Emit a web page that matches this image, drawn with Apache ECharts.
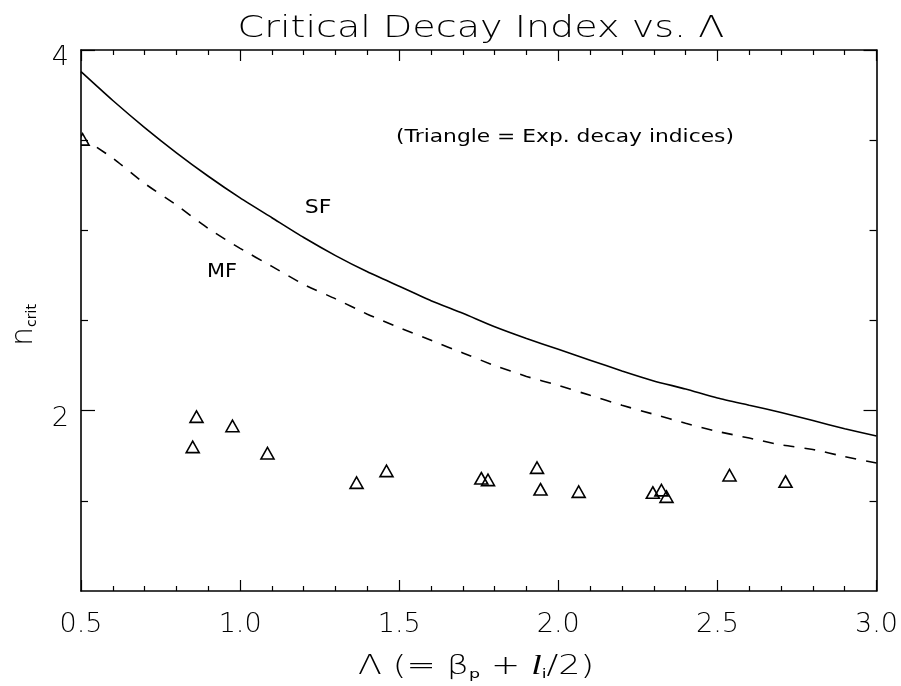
<!DOCTYPE html>
<html>
<head>
<meta charset="utf-8">
<script src="https://cdn.jsdelivr.net/npm/echarts@6/dist/echarts.min.js"></script>
<style>
  html, body { margin: 0; padding: 0; background: #fff; }
  #chart { width: 901px; height: 686px; }
</style>
</head>
<body>
<div id="chart"></div>
<script>
// Critical decay index, single-flux-rope (SF) model, solid curve
const lambdaSF = [0.5, 0.6, 0.7, 0.8, 0.9, 1.0, 1.1, 1.2, 1.3, 1.4, 1.5, 1.6, 1.7, 1.8, 1.9,
                  2.0, 2.1, 2.2, 2.3, 2.4, 2.5, 2.6, 2.7, 2.8, 2.9, 3.0];
const nCritSF = [3.88, 3.72, 3.57, 3.43, 3.30, 3.18, 3.07, 2.96, 2.86, 2.77, 2.69, 2.61, 2.54, 2.465, 2.40,
                 2.34, 2.28, 2.22, 2.165, 2.12, 2.07, 2.03, 1.99, 1.945, 1.90, 1.86];

// Critical decay index, multi-flux (MF) model, dashed curve
const lambdaMF = [0.55, 0.6, 0.7, 0.8, 0.9, 1.0, 1.1, 1.2, 1.3, 1.4, 1.5, 1.6, 1.7, 1.8, 1.9,
                  2.0, 2.1, 2.2, 2.3, 2.4, 2.5, 2.6, 2.7, 2.8, 2.9, 3.0];
const nCritMF = [3.46, 3.40, 3.26, 3.14, 3.01, 2.90, 2.80, 2.70, 2.62, 2.535, 2.46, 2.39, 2.32, 2.25, 2.19,
                 2.14, 2.085, 2.03, 1.98, 1.93, 1.885, 1.848, 1.81, 1.785, 1.745, 1.71];

// Experimental decay indices (triangles)
const expLambda = [0.505, 0.863, 0.851, 0.976, 1.086, 1.366, 1.460, 1.758, 1.779, 1.933, 1.944,
                   2.064, 2.297, 2.324, 2.340, 2.538, 2.714];
const expIndex  = [3.50, 1.963, 1.795, 1.911, 1.760, 1.597, 1.662, 1.621, 1.612, 1.680, 1.560,
                   1.547, 1.542, 1.555, 1.519, 1.638, 1.603];

// Y tick placement
const yLabelValues = [2, 4];
const yMinorValues = [1.5, 2.5, 3, 3.5];

const FONT = "'DejaVu Sans', sans-serif";
const FW = 200;
const INK = '#000';

const chart = echarts.init(document.getElementById('chart'), null, { renderer: 'canvas' });

const xBase = {
  type: 'value', min: 0.5, max: 3.0, interval: 0.5,
  splitLine: { show: false },
  axisLine: { show: true, onZero: false, lineStyle: { color: INK, width: 1.6 } },
  axisTick: { show: true, inside: true, length: 11, lineStyle: { color: INK, width: 1.2 } },
  minorTick: { show: true, splitNumber: 5, length: 5, lineStyle: { color: INK, width: 1.2 } },
  minorSplitLine: { show: false }
};

const yBase = {
  type: 'value', min: 1, max: 4,
  splitLine: { show: false },
  axisLine: { show: false, onZero: false, lineStyle: { color: INK, width: 1.6 } },
  axisLabel: { show: false }
};

const option = {
  backgroundColor: '#fff',
  animation: false,
  grid: { left: 81, right: 24, top: 50, bottom: 95, containLabel: false },
  xAxis: [
    Object.assign({}, xBase, {
      position: 'bottom',
      axisLabel: {
        show: true, margin: 20, color: INK, fontFamily: FONT, fontWeight: FW, fontSize: 27,
        formatter: v => v.toFixed(1)
      }
    }),
    Object.assign({}, xBase, { position: 'top', axisLabel: { show: false } })
  ],
  yAxis: [
    Object.assign({}, yBase, {
      position: 'left',
      axisLine: { show: true, onZero: false, lineStyle: { color: INK, width: 1.6 } },
      axisTick: { show: true, inside: true, length: 14, customValues: yLabelValues, lineStyle: { color: INK, width: 1.2 } },
      axisLabel: {
        show: true, customValues: yLabelValues, margin: 12,
        color: INK, fontFamily: FONT, fontWeight: FW, fontSize: 27,
        verticalAlign: 'top', lineHeight: 16,
        formatter: v => String(v)
      }
    }),
    Object.assign({}, yBase, {
      position: 'left',
      axisTick: { show: true, inside: true, length: 7, customValues: yMinorValues, lineStyle: { color: INK, width: 1.2 } }
    }),
    Object.assign({}, yBase, {
      position: 'right',
      axisLine: { show: true, onZero: false, lineStyle: { color: INK, width: 1.6 } },
      axisTick: { show: true, inside: true, length: 13, customValues: yLabelValues, lineStyle: { color: INK, width: 1.2 } }
    }),
    Object.assign({}, yBase, {
      position: 'right',
      axisTick: { show: true, inside: true, length: 7, customValues: yMinorValues, lineStyle: { color: INK, width: 1.2 } }
    })
  ],
  series: [
    {
      name: 'SF', type: 'line', xAxisIndex: 0, yAxisIndex: 0,
      data: lambdaSF.map((x, i) => [x, nCritSF[i]]),
      showSymbol: false, smooth: 0.2,
      lineStyle: { color: INK, width: 1.6, type: 'solid' }
    },
    {
      name: 'MF', type: 'line', xAxisIndex: 0, yAxisIndex: 0,
      data: lambdaMF.map((x, i) => [x, nCritMF[i]]),
      showSymbol: false, smooth: 0.2,
      lineStyle: { color: INK, width: 1.6, type: [11, 10] }
    },
    {
      name: 'Exp. decay indices', type: 'custom', xAxisIndex: 0, yAxisIndex: 0,
      clip: true,
      data: expLambda.map((x, i) => [x, expIndex[i]]),
      renderItem: (params, api) => {
        const p = api.coord([api.value(0), api.value(1)]);
        return {
          type: 'polygon',
          shape: { points: [[p[0], p[1] - 6.5], [p[0] + 6.5, p[1] + 5], [p[0] - 6.5, p[1] + 5]] },
          style: { fill: 'none', stroke: INK, lineWidth: 1.6 }
        };
      }
    }
  ],
  graphic: [
    {
      type: 'text', x: 481, y: 29, scaleX: 1.27,
      style: { text: 'Critical Decay Index vs. Λ', fill: INK, font: `${FW} 30px ${FONT}`, align: 'center', verticalAlign: 'middle' }
    },
    {
      type: 'text', x: 565, y: 137, scaleX: 1.21,
      style: { text: '(Triangle = Exp. decay indices)', fill: INK, font: `normal 18px ${FONT}`, align: 'center', verticalAlign: 'middle' }
    },
    {
      type: 'text', x: 318, y: 208, scaleX: 1.1,
      style: { text: 'SF', fill: INK, font: `normal 20px ${FONT}`, align: 'center', verticalAlign: 'middle' }
    },
    {
      type: 'text', x: 222, y: 272, scaleX: 1.1,
      style: { text: 'MF', fill: INK, font: `normal 19px ${FONT}`, align: 'center', verticalAlign: 'middle' }
    },
    {
      type: 'text', x: 476, y: 667, scaleX: 1.34,
      style: {
        text: '{t|Λ (= β}{s|p}{t| + }{it|l}{s|i}{t|/2)}',
        align: 'center', verticalAlign: 'middle',
        rich: {
          t: { fontFamily: FONT, fontWeight: FW, fontSize: 26, fill: INK, lineHeight: 30 },
          it: { fontFamily: "'Liberation Serif', serif", fontStyle: 'italic', fontSize: 28, fill: INK, lineHeight: 30 },
          s: { fontFamily: FONT, fontWeight: 'normal', fontSize: 13, fill: INK, lineHeight: 30, padding: [16, 0, 0, 0] }
        }
      }
    },
    {
      type: 'text', x: 24, y: 325, rotation: Math.PI / 2,
      style: {
        text: '{n|n}{s|crit}',
        align: 'center', verticalAlign: 'middle',
        rich: {
          n: { fontFamily: FONT, fontWeight: FW, fontSize: 30, fill: INK, lineHeight: 32 },
          s: { fontFamily: FONT, fontWeight: 'normal', fontSize: 14, fill: INK, lineHeight: 32, padding: [16, 0, 0, 0] }
        }
      }
    }
  ]
};

chart.setOption(option);
</script>
</body>
</html>
